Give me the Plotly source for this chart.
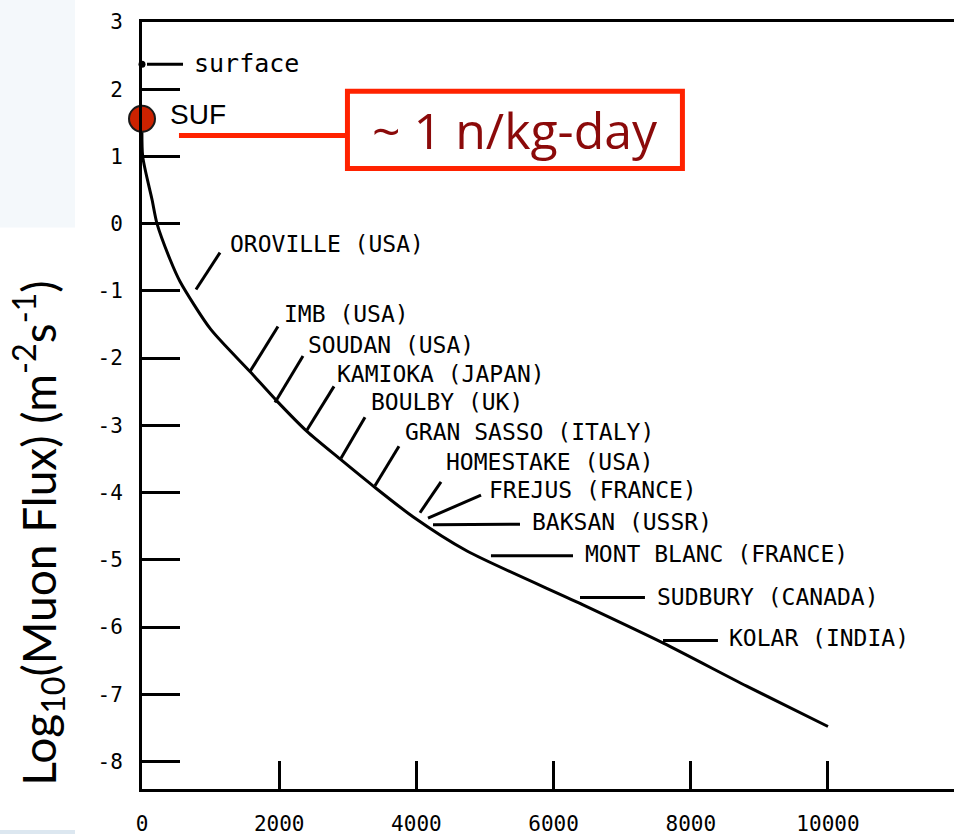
import plotly.graph_objects as go

# Depth-intensity curve: vertical muon flux versus depth (metres water equivalent)
depth_mwe = [0, 10, 146, 219, 408, 554, 1000, 1574, 1968, 2405, 2886, 3367,
             3950, 4738, 6385, 7600, 8815, 10000]
log_flux = [1.56, 1.0, 0.36, 0.0, -0.53, -0.86, -1.57, -2.20, -2.64, -3.09,
            -3.50, -3.90, -4.36, -4.87, -5.65, -6.24, -6.88, -7.48]

# Reference points at the surface and at the SUF site
surface_depth, surface_flux = [0], [2.37]
suf_depth, suf_flux = [0], [1.56]

# Underground laboratories named along the curve
labs = ["OROVILLE (USA)", "IMB (USA)", "SOUDAN (USA)", "KAMIOKA (JAPAN)",
        "BOULBY (UK)", "GRAN SASSO (ITALY)", "HOMESTAKE (USA)",
        "FREJUS (FRANCE)", "BAKSAN (USSR)", "MONT BLANC (FRANCE)",
        "SUDBURY (CANADA)", "KOLAR (INDIA)"]

x_tick_vals = [0, 2000, 4000, 6000, 8000, 10000]
x_tick_labels = ["0", "2000", "4000", "6000", "8000", "10000"]
y_tick_vals = [3, 2, 1, 0, -1, -2, -3, -4, -5, -6, -7, -8]
y_tick_labels = ["3", "2", "1", "0", "-1", "-2", "-3", "-4", "-5", "-6", "-7", "-8"]

rate_text = "~ 1 n/kg-day"

# Leader line (start, end) and label anchor for every laboratory, in data units
lab_layout = [
    ((787, -0.98), (1137, -0.43), (1254, -0.30)),
    ((1574, -2.20), (1982, -1.53), (2041, -1.35)),
    ((1939, -2.66), (2347, -1.97), (2391, -1.80)),
    ((2405, -3.07), (2799, -2.42), (2813, -2.24)),
    ((2901, -3.49), (3251, -2.88), (3309, -2.66)),
    ((3396, -3.90), (3746, -3.31), (3804, -3.10)),
    ((4052, -4.30), (4359, -3.84), (4402, -3.55)),
    ((4169, -4.38), (4942, -4.04), (5029, -3.96)),
    ((4242, -4.48), (5510, -4.47), (5656, -4.44)),
    ((5087, -4.94), (6283, -4.94), (6428, -4.91)),
    ((6385, -5.56), (7332, -5.56), (7478, -5.56)),
    ((7595, -6.20), (8396, -6.20), (8528, -6.17)),
]

MONO = "DejaVu Sans Mono"

fig = go.Figure()

fig.add_trace(go.Scatter(
    x=depth_mwe, y=log_flux, mode="lines",
    line=dict(color="black", width=3, shape="spline", smoothing=0.7),
    hoverinfo="skip", showlegend=False,
))
fig.add_trace(go.Scatter(
    x=surface_depth, y=surface_flux, mode="markers",
    marker=dict(color="black", size=7), cliponaxis=False,
    hoverinfo="skip", showlegend=False,
))
fig.add_trace(go.Scatter(
    x=suf_depth, y=suf_flux, mode="markers",
    marker=dict(color="#CC2200", size=26, line=dict(color="#1a1a1a", width=2)),
    cliponaxis=False, hoverinfo="skip", showlegend=False,
))

shapes = []
annotations = []

# pale panel in the upper-left corner and a thin strip at the bottom-left
shapes.append(dict(type="rect", xref="paper", yref="paper", layer="below",
                   x0=-142 / 812, x1=(75 - 142) / 812,
                   y0=(791 - 228) / 769, y1=(791 + 0) / 769 + 22 / 769,
                   fillcolor="#F4F8FB", line=dict(width=0)))
shapes.append(dict(type="rect", xref="paper", yref="paper", layer="below",
                   x0=-142 / 812, x1=(75 - 142) / 812,
                   y0=-45 / 769, y1=-41 / 769,
                   fillcolor="#DCE7F0", line=dict(width=0)))

for name, (start, end, anchor) in zip(labs, lab_layout):
    shapes.append(dict(type="line", xref="x", yref="y",
                       x0=start[0], y0=start[1], x1=end[0], y1=end[1],
                       line=dict(color="black", width=3)))
    annotations.append(dict(x=anchor[0], y=anchor[1], xref="x", yref="y",
                            text=name, showarrow=False, xanchor="left",
                            yanchor="middle",
                            font=dict(family=MONO, size=23, color="black")))

# surface marker label
shapes.append(dict(type="line", xref="x", yref="y", x0=73, y0=2.37, x1=598, y1=2.37,
                   line=dict(color="black", width=3)))
annotations.append(dict(x=729, y=2.39, xref="x", yref="y", text="surface",
                        showarrow=False, xanchor="left", yanchor="middle",
                        font=dict(family=MONO, size=25, color="black")))

# SUF label, connector and the boxed rate
annotations.append(dict(x=379, y=1.62, xref="x", yref="y", text="SUF",
                        showarrow=False, xanchor="left", yanchor="middle",
                        font=dict(family="Liberation Sans", size=28, color="black")))
shapes.append(dict(type="line", xref="x", yref="y", x0=539, y0=1.31, x1=2995, y1=1.31,
                   line=dict(color="#FF2200", width=5)))
shapes.append(dict(type="rect", xref="x", yref="y", x0=2995, x1=7878, y0=0.82, y1=1.97,
                   line=dict(color="#FF2200", width=5), fillcolor="white"))
annotations.append(dict(x=5437, y=1.39, xref="x", yref="y", text=rate_text,
                        showarrow=False, xanchor="center", yanchor="middle",
                        font=dict(family="Open Sans", size=50, color="#8B0A0A")))

# vertical axis title
annotations.append(dict(x=-104 / 812, y=(791 - 535) / 769, xref="paper", yref="paper",
                        text="Log<sub>10</sub>(Muon Flux) (m<sup>-2</sup>s<sup>-1</sup>)",
                        textangle=-90, showarrow=False, xanchor="center",
                        yanchor="middle",
                        font=dict(family="Lato", size=46, color="black")))

fig.update_layout(
    width=954, height=836,
    margin=dict(l=142, r=0, t=22, b=45),
    paper_bgcolor="white", plot_bgcolor="white",
    shapes=shapes, annotations=annotations,
    showlegend=False,
)
fig.update_xaxes(
    range=[0, 11837], tickvals=x_tick_vals, ticktext=x_tick_labels,
    ticks="inside", ticklen=28, tickwidth=3, tickcolor="black",
    showline=True, linecolor="black", linewidth=3, mirror=True,
    showgrid=False, zeroline=False, ticklabelstandoff=14,
    tickfont=dict(family=MONO, size=21, color="black"),
)
fig.update_yaxes(
    range=[-8.41, 3.0], tickvals=y_tick_vals, ticktext=y_tick_labels,
    ticks="inside", ticklen=38, tickwidth=2.6, tickcolor="black",
    showline=True, linecolor="black", linewidth=3, mirror=False,
    showgrid=False, zeroline=False, ticklabelstandoff=12,
    tickfont=dict(family=MONO, size=21, color="black"),
)

fig.write_html("out.html")
